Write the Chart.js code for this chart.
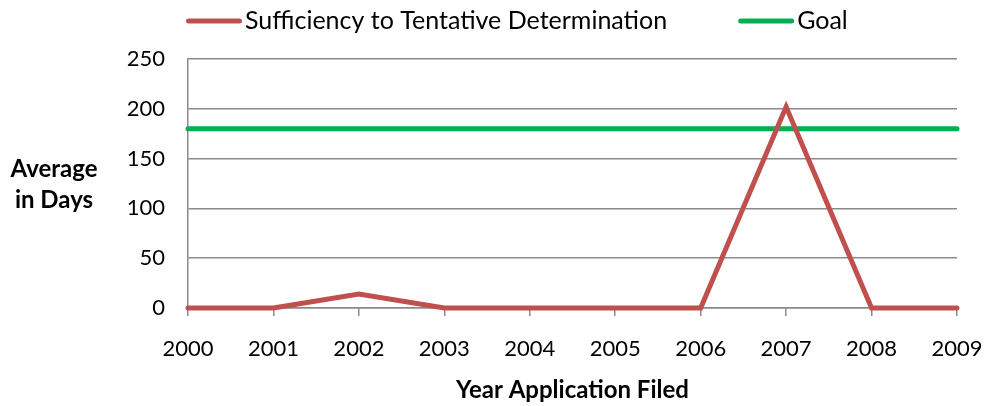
<!DOCTYPE html>
<html>
<head>
<meta charset="utf-8">
<script src="https://cdn.jsdelivr.net/npm/chart.js@4.4.1/dist/chart.umd.min.js"></script>
<style>
  html, body { margin: 0; padding: 0; background: #fff; }
  #wrap { width: 985px; height: 406px; }
</style>
</head>
<body>
<div id="wrap"><canvas id="daysChart" width="985" height="406"></canvas></div>
<script>
// data
const years = ['2000', '2001', '2002', '2003', '2004', '2005', '2006', '2007', '2008', '2009'];
const sufficiencyDays = [0, 0, 14, 0, 0, 0, 0, 202, 0, 0];
const goalDays = [180, 180, 180, 180, 180, 180, 180, 180, 180, 180];
const yTicks = [0, 50, 100, 150, 200, 250];
const seriesNames = ['Sufficiency to Tentative Determination', 'Goal'];
const seriesColors = ['#C0504D', '#00B050'];
const yTitle = ['Average', 'in Days'];
const xTitle = 'Year Application Filed';

const FONT = 'Lato';
const gridGray = '#8a8a8a';

// legend drawn by hand so the swatch sits right next to the text
const legendPlugin = {
  id: 'sideLegend',
  afterDraw(chart) {
    const ctx = chart.ctx;
    ctx.save();
    ctx.font = '25px ' + FONT;
    ctx.textBaseline = 'middle';
    ctx.fillStyle = '#000';
    const swatch = 56, gapText = 3, gapItem = 71, cy = 21;
    let x = 186;
    chart.data.datasets.forEach((ds) => {
      ctx.strokeStyle = ds.borderColor;
      ctx.lineWidth = 5;
      ctx.lineCap = 'round';
      ctx.beginPath();
      ctx.moveTo(x + 2.5, cy);
      ctx.lineTo(x + swatch - 2.5, cy);
      ctx.stroke();
      x += swatch + gapText;
      ctx.fillText(ds.label, x, cy);
      x += ctx.measureText(ds.label).width + gapItem;
    });

    // y axis title, horizontal, two lines
    ctx.font = 'bold 24px ' + FONT;
    ctx.textAlign = 'center';
    ctx.fillText(yTitle[0], 54, 169);
    ctx.fillText(yTitle[1], 54, 200);
    ctx.restore();
  }
};

const ctx = document.getElementById('daysChart').getContext('2d');
const daysChart = new Chart(ctx, {
  type: 'line',
  data: {
    labels: years,
    datasets: [{
      label: seriesNames[0],
      data: sufficiencyDays,
      borderColor: seriesColors[0],
      backgroundColor: seriesColors[0],
      borderWidth: 5,
      borderJoinStyle: 'miter',
      borderCapStyle: 'round',
      pointRadius: 0,
      tension: 0,
      clip: false
    }, {
      label: seriesNames[1],
      data: goalDays,
      borderColor: seriesColors[1],
      backgroundColor: seriesColors[1],
      borderWidth: 5,
      borderCapStyle: 'round',
      pointRadius: 0,
      tension: 0,
      clip: false
    }]
  },
  options: {
    responsive: false,
    animation: false,
    devicePixelRatio: 1,
    layout: { padding: { top: 59, left: 0, right: 0, bottom: 0 } },
    plugins: {
      legend: { display: false },
      tooltip: { enabled: false }
    },
    scales: {
      x: {
        offset: false,
        grid: { drawOnChartArea: false, drawTicks: true, tickLength: 8, color: gridGray, lineWidth: 1.5 },
        border: { display: true, color: gridGray, width: 1.5 },
        ticks: { color: '#000', font: { family: FONT, size: 22 }, padding: 20, maxRotation: 0, autoSkip: false },
        title: { display: true, text: xTitle, color: '#000', font: { family: FONT, size: 24, weight: 'bold' }, padding: { top: 0, bottom: 1 } },
        afterFit(scale) {
          scale.height = 98;
          scale.paddingLeft = 0;
          scale.paddingRight = 28;
        }
      },
      y: {
        min: 0,
        max: 250,
        grid: { drawTicks: false, color: gridGray, lineWidth: 1.5 },
        border: { display: true, color: gridGray, width: 1.5 },
        ticks: { color: '#000', font: { family: FONT, size: 22 }, padding: 23 },
        afterBuildTicks(scale) {
          scale.ticks = yTicks.map(v => ({ value: v }));
        },
        afterFit(scale) {
          scale.width = 188;
          scale.paddingTop = 0;
          scale.paddingBottom = 0;
        }
      }
    }
  },
  plugins: [legendPlugin]
});
</script>
</body>
</html>
